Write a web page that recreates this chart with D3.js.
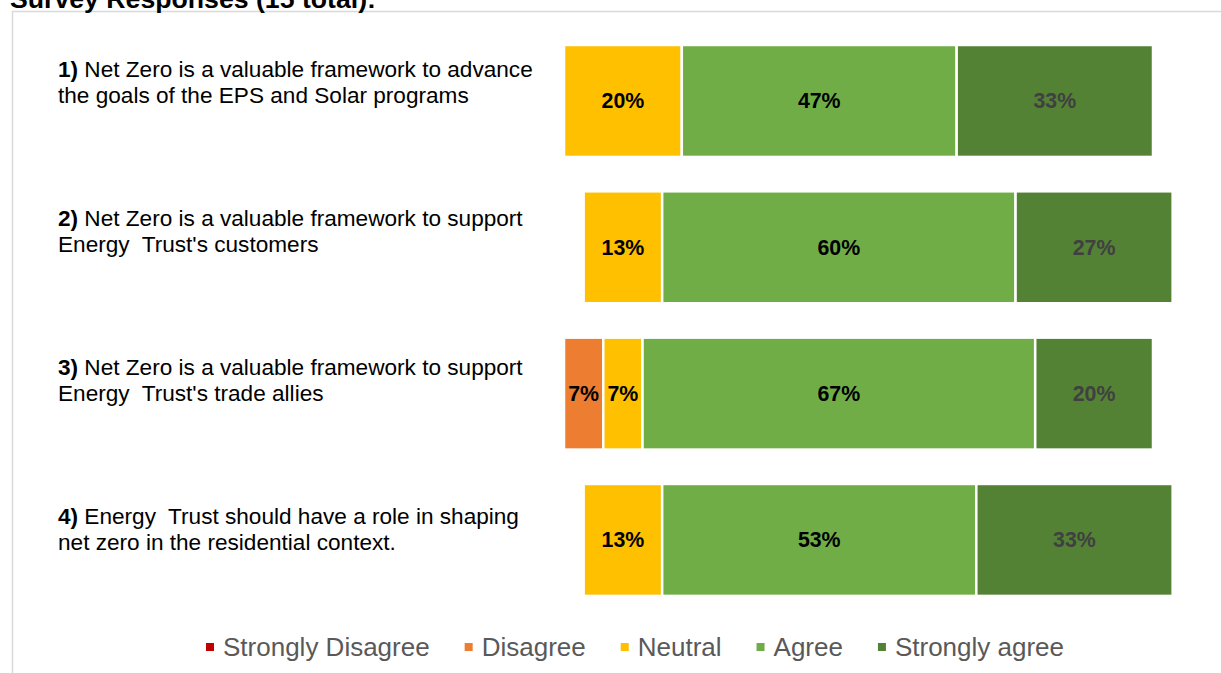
<!DOCTYPE html>
<html>
<head>
<meta charset="utf-8">
<script src="https://cdn.jsdelivr.net/npm/d3@7"></script>
<style>
  body { margin: 0; background: #fff; }
  svg { display: block; font-family: Arial, "Liberation Sans", sans-serif; }
</style>
</head>
<body>
<div class="container"></div>
<script>
var w = 1221;
var h = 673;

// survey answers, counts out of 15 respondents
var total = 15;
var categories = ["Strongly Disagree", "Disagree", "Neutral", "Agree", "Strongly agree"];
var colors = ["#C00000", "#ED7D31", "#FFC000", "#70AD47", "#548235"];
var questionNums = ["1)", "2)", "3)", "4)"];
var questionLines = [
  ["Net Zero is a valuable framework to advance", "the goals of the EPS and Solar programs"],
  ["Net Zero is a valuable framework to support", "Energy  Trust's customers"],
  ["Net Zero is a valuable framework to support", "Energy  Trust's trade allies"],
  ["Energy  Trust should have a role in shaping", "net zero in the residential context."]
];
var stronglyDisagree = [0, 0, 0, 0];
var disagree = [0, 0, 1, 0];
var neutral = [3, 2, 1, 2];
var agree = [7, 9, 10, 8];
var stronglyAgree = [5, 4, 3, 5];

var series = [stronglyDisagree, disagree, neutral, agree, stronglyAgree];

var canvas = d3
  .select(".container")
  .append("svg")
  .attr("width", w)
  .attr("height", h);

// chart frame (runs off the page on the right and bottom)
canvas
  .append("rect")
  .attr("x", 12.5)
  .attr("y", 11.5)
  .attr("width", 1300)
  .attr("height", 800)
  .attr("fill", "none")
  .attr("stroke", "#d9d9d9")
  .attr("stroke-width", 1.5);

canvas
  .append("text")
  .attr("x", 10)
  .attr("y", 8)
  .attr("font-size", 26.67)
  .attr("font-weight", "bold")
  .attr("fill", "#000")
  .text("Survey Responses (" + total + " total):");

// diverging layout: centre of the neutral segment sits on zero
var rows = questionNums.map(function(q, i) {
  var pct = series.map(s => s[i] / total);
  var start = -(pct[0] + pct[1] + pct[2] / 2);
  var segs = [];
  pct.forEach(function(p, k) {
    segs.push({ cat: k, x0: start, x1: start + p, v: p });
    start += p;
  });
  return { i: i, segs: segs.filter(s => s.v > 0) };
});

var xScale = d3.scaleLinear().domain([-0.10, 0.90]).range([564, 1153]);
var yScale = d3
  .scaleBand()
  .domain(d3.range(questionNums.length))
  .range([27.8, 613.1])
  .paddingInner(0.235)
  .paddingOuter(0.1175);
// the question text boxes are spaced a little wider than the bars
var labelY = d3
  .scalePoint()
  .domain(d3.range(questionNums.length))
  .range([76.5, 76.5 + 3 * 149]);

var rowG = canvas
  .append("g")
  .selectAll("g")
  .data(rows)
  .enter()
  .append("g")
  .attr("transform", d => "translate(0," + yScale(d.i) + ")");

rowG
  .selectAll("rect")
  .data(d => d.segs)
  .enter()
  .append("rect")
  .attr("x", d => xScale(d.x0))
  .attr("width", d => xScale(d.x1) - xScale(d.x0))
  .attr("y", 0)
  .attr("height", yScale.bandwidth())
  .attr("fill", d => colors[d.cat])
  .attr("stroke", "#fff")
  .attr("stroke-width", 2.5);

rowG
  .selectAll("text.val")
  .data(d => d.segs)
  .enter()
  .append("text")
  .attr("class", "val")
  .attr("x", d => (xScale(d.x0) + xScale(d.x1)) / 2)
  .attr("y", yScale.bandwidth() / 2 + 7.5)
  .attr("text-anchor", "middle")
  .attr("font-size", 21.33)
  .attr("font-weight", "bold")
  .attr("fill", d => (d.cat == 4 ? "#404040" : "#000"))
  .text(d => d3.format(".0%")(d.v));

// question labels on the left
var labels = canvas
  .append("g")
  .selectAll("text")
  .data(questionLines)
  .enter()
  .append("text")
  .attr("font-size", 22.6)
  .attr("fill", "#000")
  .style("white-space", "pre");

labels.each(function(lines, i) {
  var y0 = labelY(i);
  var t = d3.select(this);
  var first = t.append("tspan").attr("x", 58).attr("y", y0);
  first.append("tspan").attr("font-weight", "bold").text(questionNums[i]);
  first.append("tspan").text(" " + lines[0]);
  t.append("tspan").attr("x", 58).attr("y", y0 + 26).text(lines[1]);
});

// legend
var legend = canvas.append("g").attr("transform", "translate(206, 647)");
var lx = 0;
categories.forEach(function(c, k) {
  var g = legend.append("g").attr("transform", "translate(" + lx + ",0)");
  g.append("rect")
    .attr("x", 0)
    .attr("y", -4)
    .attr("width", 8)
    .attr("height", 8)
    .attr("fill", colors[k]);
  var t = g.append("text")
    .attr("x", 17)
    .attr("y", 9)
    .attr("font-size", 26)
    .attr("fill", "#595959")
    .text(c);
  lx += 17 + t.node().getComputedTextLength() + 35;
});
</script>
</body>
</html>
